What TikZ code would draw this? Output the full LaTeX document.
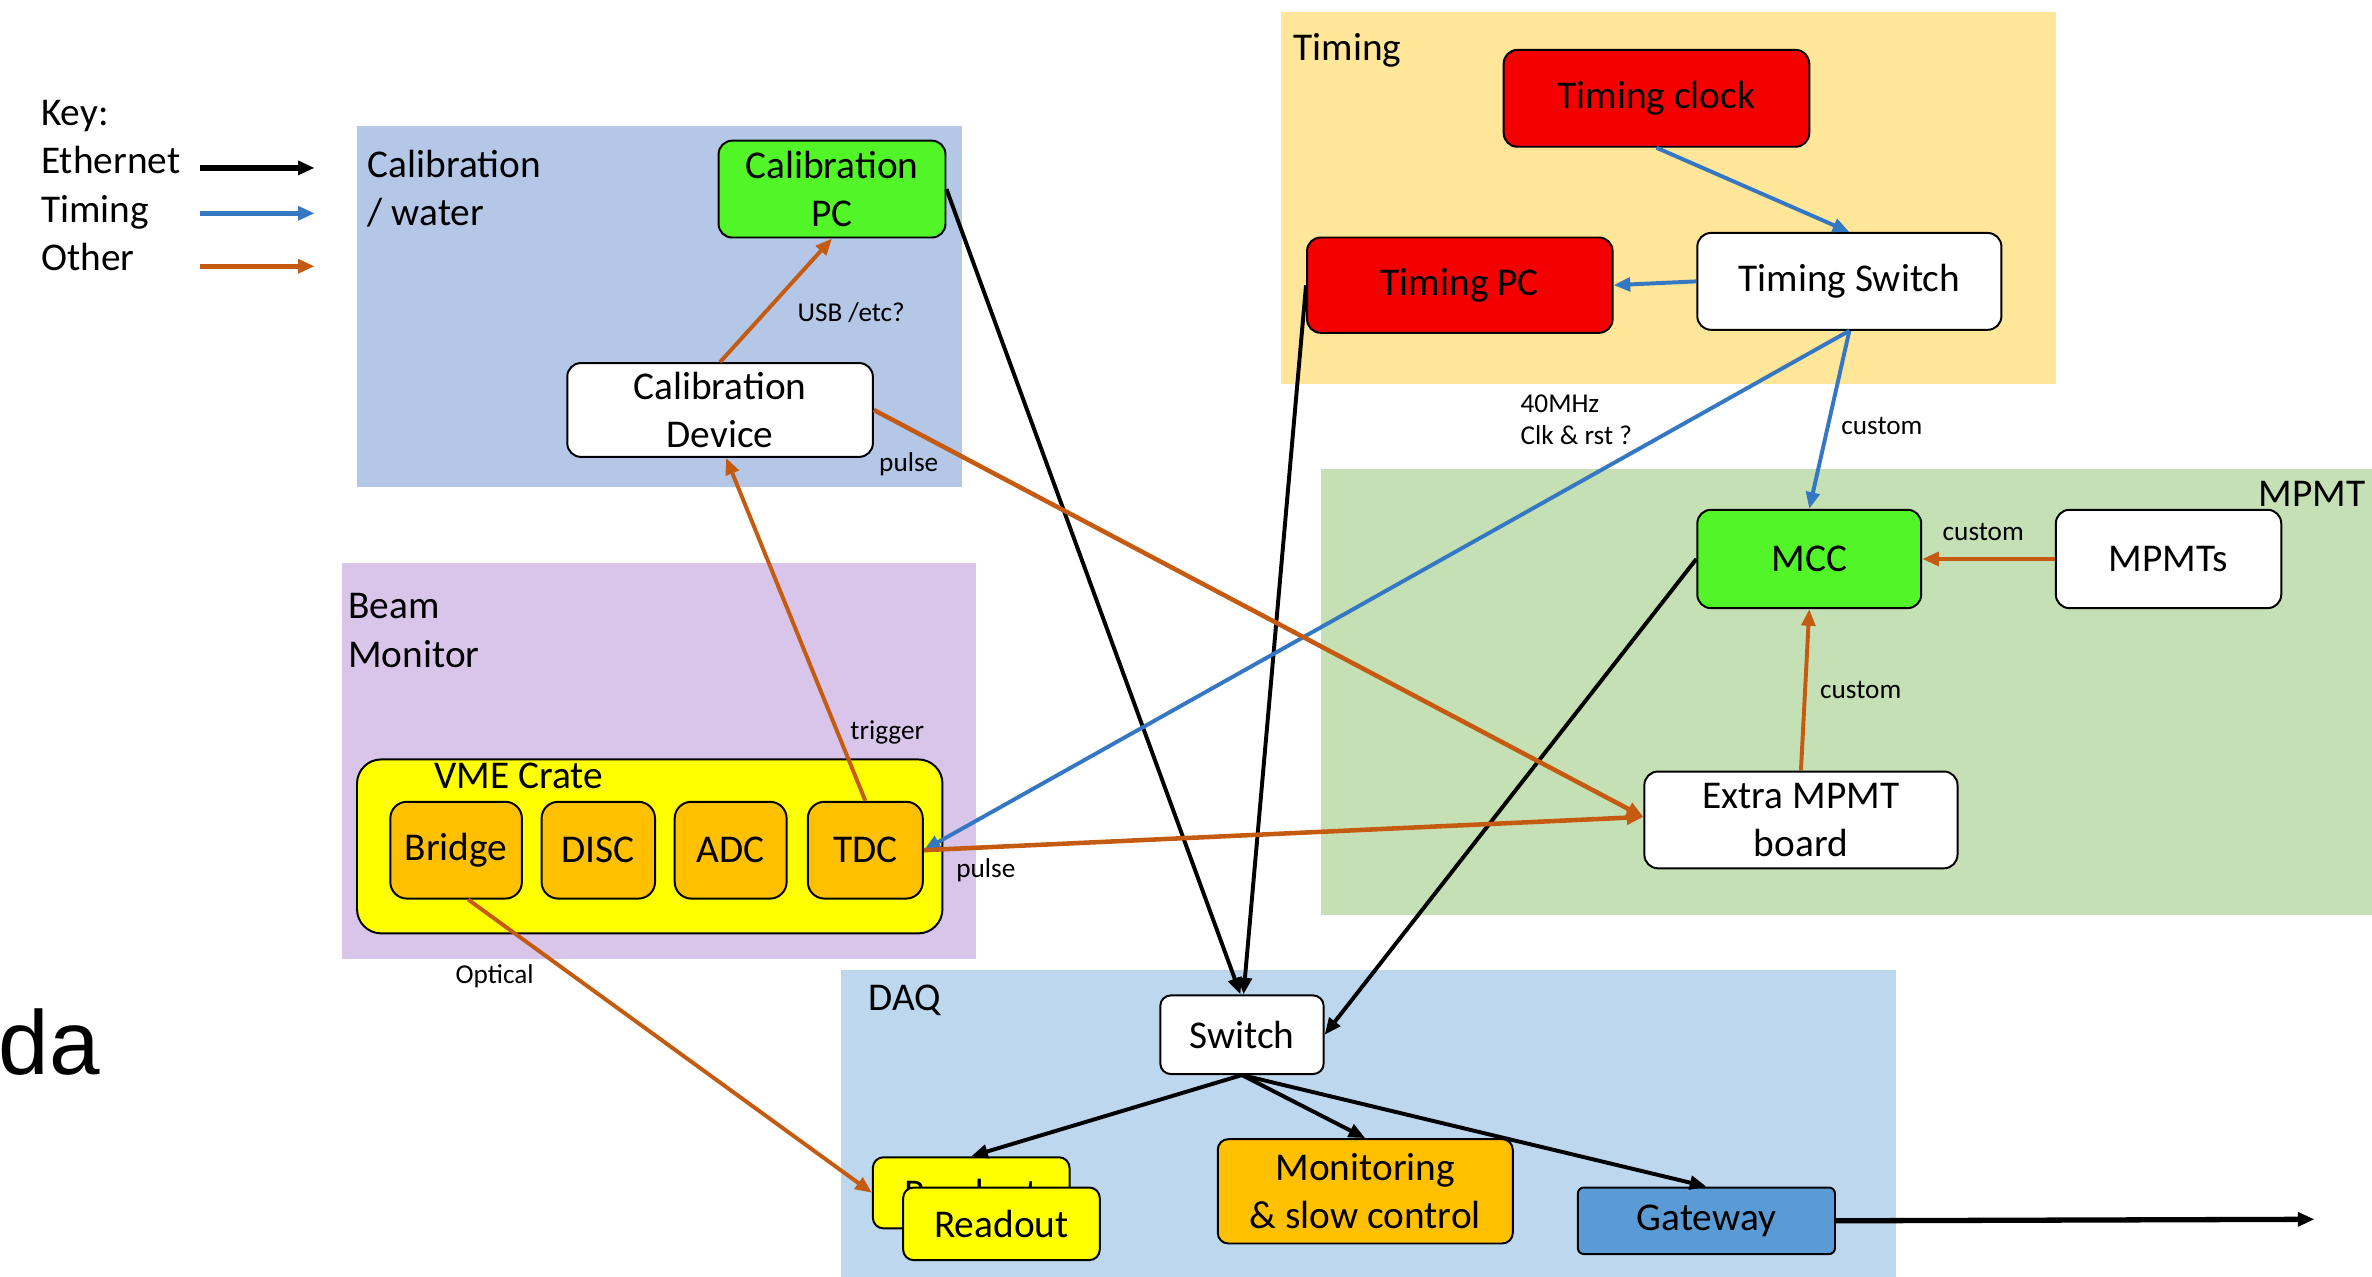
\documentclass[tikz,border=0pt]{standalone}
\usepackage{fontspec}
\setmainfont{Carlito}
\newfontfamily\arialfont{Liberation Sans}
\usetikzlibrary{arrows.meta}
\definecolor{grpcal}{HTML}{B4C7E7}
\definecolor{grptim}{HTML}{FFE699}
\definecolor{grpbeam}{HTML}{D9C4EA}
\definecolor{grpmpmt}{HTML}{C5E0B4}
\definecolor{grpdaq}{HTML}{BDD7EE}
\definecolor{boxgreen}{RGB}{82,245,40}
\definecolor{boxred}{RGB}{245,0,0}
\definecolor{boxorange}{HTML}{FFC000}
\definecolor{boxyellow}{HTML}{FFFF00}
\definecolor{boxblue}{HTML}{5B9BD5}
\definecolor{lnorange}{HTML}{C55A11}
\definecolor{lnblue}{RGB}{52,120,195}
\begin{document}
\begin{tikzpicture}[x=1pt,y=-1pt,
  box/.style={draw=black, line width=1.3pt, rounded corners=9pt, align=center, inner sep=0pt, font=\fontsize{26}{32}\selectfont},
  wh/.style 2 args={minimum width=#1pt, minimum height=#2pt},
  grouplbl/.style={inner sep=0pt, align=left, anchor=base west, font=\fontsize{26}{32}\selectfont},
  lbl/.style={inner sep=0pt, align=left, anchor=base west, font=\fontsize{18}{21}\selectfont},
  eth/.style={draw=black, line width=2.6pt, -{Triangle[length=11pt,width=9pt]}},
  tim/.style={draw=lnblue, line width=2.6pt, -{Triangle[length=11pt,width=9pt]}},
  oth/.style={draw=lnorange, line width=2.6pt, -{Triangle[length=11pt,width=9pt]}},
]
\useasboundingbox (0,0) rectangle (1568,844);
% group areas
\fill[grpcal] (236,83) rectangle (636,322);
\fill[grptim] (847,8) rectangle (1359,254);
\fill[grpbeam] (226,372) rectangle (645,634);
\fill[grpmpmt] (873,310) rectangle (1568,605);
\fill[grpdaq] (556,641) rectangle (1253,844);
% group labels (base = baseline of last line)
\node[grouplbl] (lblcal) at (243,149) {Calibration\\/ water};
\node[grouplbl] (lbltim) at (855,40) {Timing};
\node[grouplbl] (lblbeam) at (230,441) {Beam\\Monitor};
\node[grouplbl] (lbldaq) at (574,668) {DAQ};
\node[grouplbl, anchor=base east] (lblmpmt) at (1564,335) {MPMT};
% legend
\node[grouplbl] (key) at (27,179) {Key:\\Ethernet\\Timing\\Other};
\coordinate (k1a) at (132,111); \coordinate (k1b) at (208,111);
\coordinate (k2a) at (132,141); \coordinate (k2b) at (208,141);
\coordinate (k3a) at (132,176); \coordinate (k3b) at (208,176);
\draw[eth, line width=3.5pt] (k1a) -- (k1b);
\draw[tim, line width=3.5pt] (k2a) -- (k2b);
\draw[oth, line width=3.5pt] (k3a) -- (k3b);
% stray text
\node[inner sep=0pt, anchor=base west, font=\arialfont\fontsize{60}{70}\selectfont] (da) at (-1,710) {da};
% nodes
\node[box, fill=boxgreen, wh={150}{64}] (calpc) at (550,125) {Calibration\\PC};
\node[box, fill=white, wh={202}{62}] (caldev) at (476,271) {Calibration\\Device};
\node[box, fill=boxred, wh={202}{64}] (tclock) at (1095,65) {Timing clock};
\node[box, fill=boxred, wh={202}{63}] (tpc) at (965,188.5) {Timing PC};
\node[box, fill=white, wh={201}{64}] (tsw) at (1222.5,186) {Timing Switch};
\node[box, fill=boxgreen, wh={148}{65}] (mcc) at (1196,369.5) {MCC};
\node[box, fill=white, wh={149}{65}] (mpmts) at (1433.5,369.5) {MPMTs};
\node[box, fill=white, wh={207}{64}] (extra) at (1190.5,542) {Extra MPMT\\board};
\node[box, fill=boxyellow, wh={387}{115}, rounded corners=16pt] (vme) at (429.5,559.5) {};
\node[grouplbl] (vmelbl) at (287,521) {VME Crate};
\node[box, fill=boxorange, wh={87}{64}, rounded corners=11pt] (bridge) at (301.5,562) {Bridge};
\node[box, fill=boxorange, wh={75}{64}, rounded corners=11pt] (disc) at (395.5,562) {DISC};
\node[box, fill=boxorange, wh={74}{64}, rounded corners=11pt] (adc) at (483,562) {ADC};
\node[box, fill=boxorange, wh={76}{64}, rounded corners=11pt] (tdc) at (572,562) {TDC};
\node[box, fill=white, wh={108}{52}, rounded corners=7pt] (switch) at (821,684) {Switch};
\node[box, fill=boxyellow, wh={130}{47}, rounded corners=7pt] (rb) at (642,788.5) {Readout};
\node[box, fill=boxyellow, wh={130}{48}, rounded corners=7pt] (rf) at (662,809) {Readout};
\node[box, fill=boxorange, wh={195}{69}, rounded corners=7pt] (mon) at (902.5,787.5) {Monitoring\\\& slow control};
\node[box, fill=boxblue, wh={170}{44}, rounded corners=4pt] (gw) at (1128,807) {Gateway};
% ethernet
\draw[eth] (calpc.east) -- ([xshift=-1pt]switch.north);
\draw[eth] (tpc.west) -- ([xshift=1pt]switch.north);
\draw[eth] (mcc.west) -- (switch.east);
\draw[eth] (switch.south) -- (rb.north);
\draw[eth] (switch.south) -- (mon.north);
\draw[eth] (switch.south) -- (gw.north);
\coordinate (out) at (1530,806);
\draw[eth, line width=3.5pt] (gw.east) -- (out);
% timing
\draw[tim] (tclock.south) -- (tsw.north);
\draw[tim] (tsw.west) -- (tpc.east);
\draw[tim] (tsw.south) -- (mcc.north);
\draw[tim] (tsw.south) -- (tdc.east);
% other
\draw[oth] (caldev.north) -- (calpc.south);
\draw[oth] (tdc.north) -- ([xshift=4pt]caldev.south);
\draw[oth, line width=3pt] (caldev.east) -- ([yshift=2pt]extra.west);
\draw[oth, line width=3pt] (tdc.east) -- ([yshift=2pt]extra.west);
\draw[oth] (mpmts.west) -- (mcc.east);
\draw[oth] (extra.north) -- (mcc.south);
\draw[oth] ([xshift=8pt]bridge.south) -- (rb.west);
% connector labels
\node[lbl] (lusb) at (527,212.5) {USB /etc?};
\node[lbl] (lpulse1) at (581,311.5) {pulse};
\node[lbl] (lclk) at (1005,294) {40MHz\\Clk \& rst ?};
\node[lbl] (lcust1) at (1217,287.5) {custom};
\node[lbl] (lcust2) at (1284,357) {custom};
\node[lbl] (lcust3) at (1203,461.5) {custom};
\node[lbl] (ltrig) at (562,489) {trigger};
\node[lbl] (lpulse2) at (632,580) {pulse};
\node[lbl] (lopt) at (301,650) {Optical};
\end{tikzpicture}
\end{document}
